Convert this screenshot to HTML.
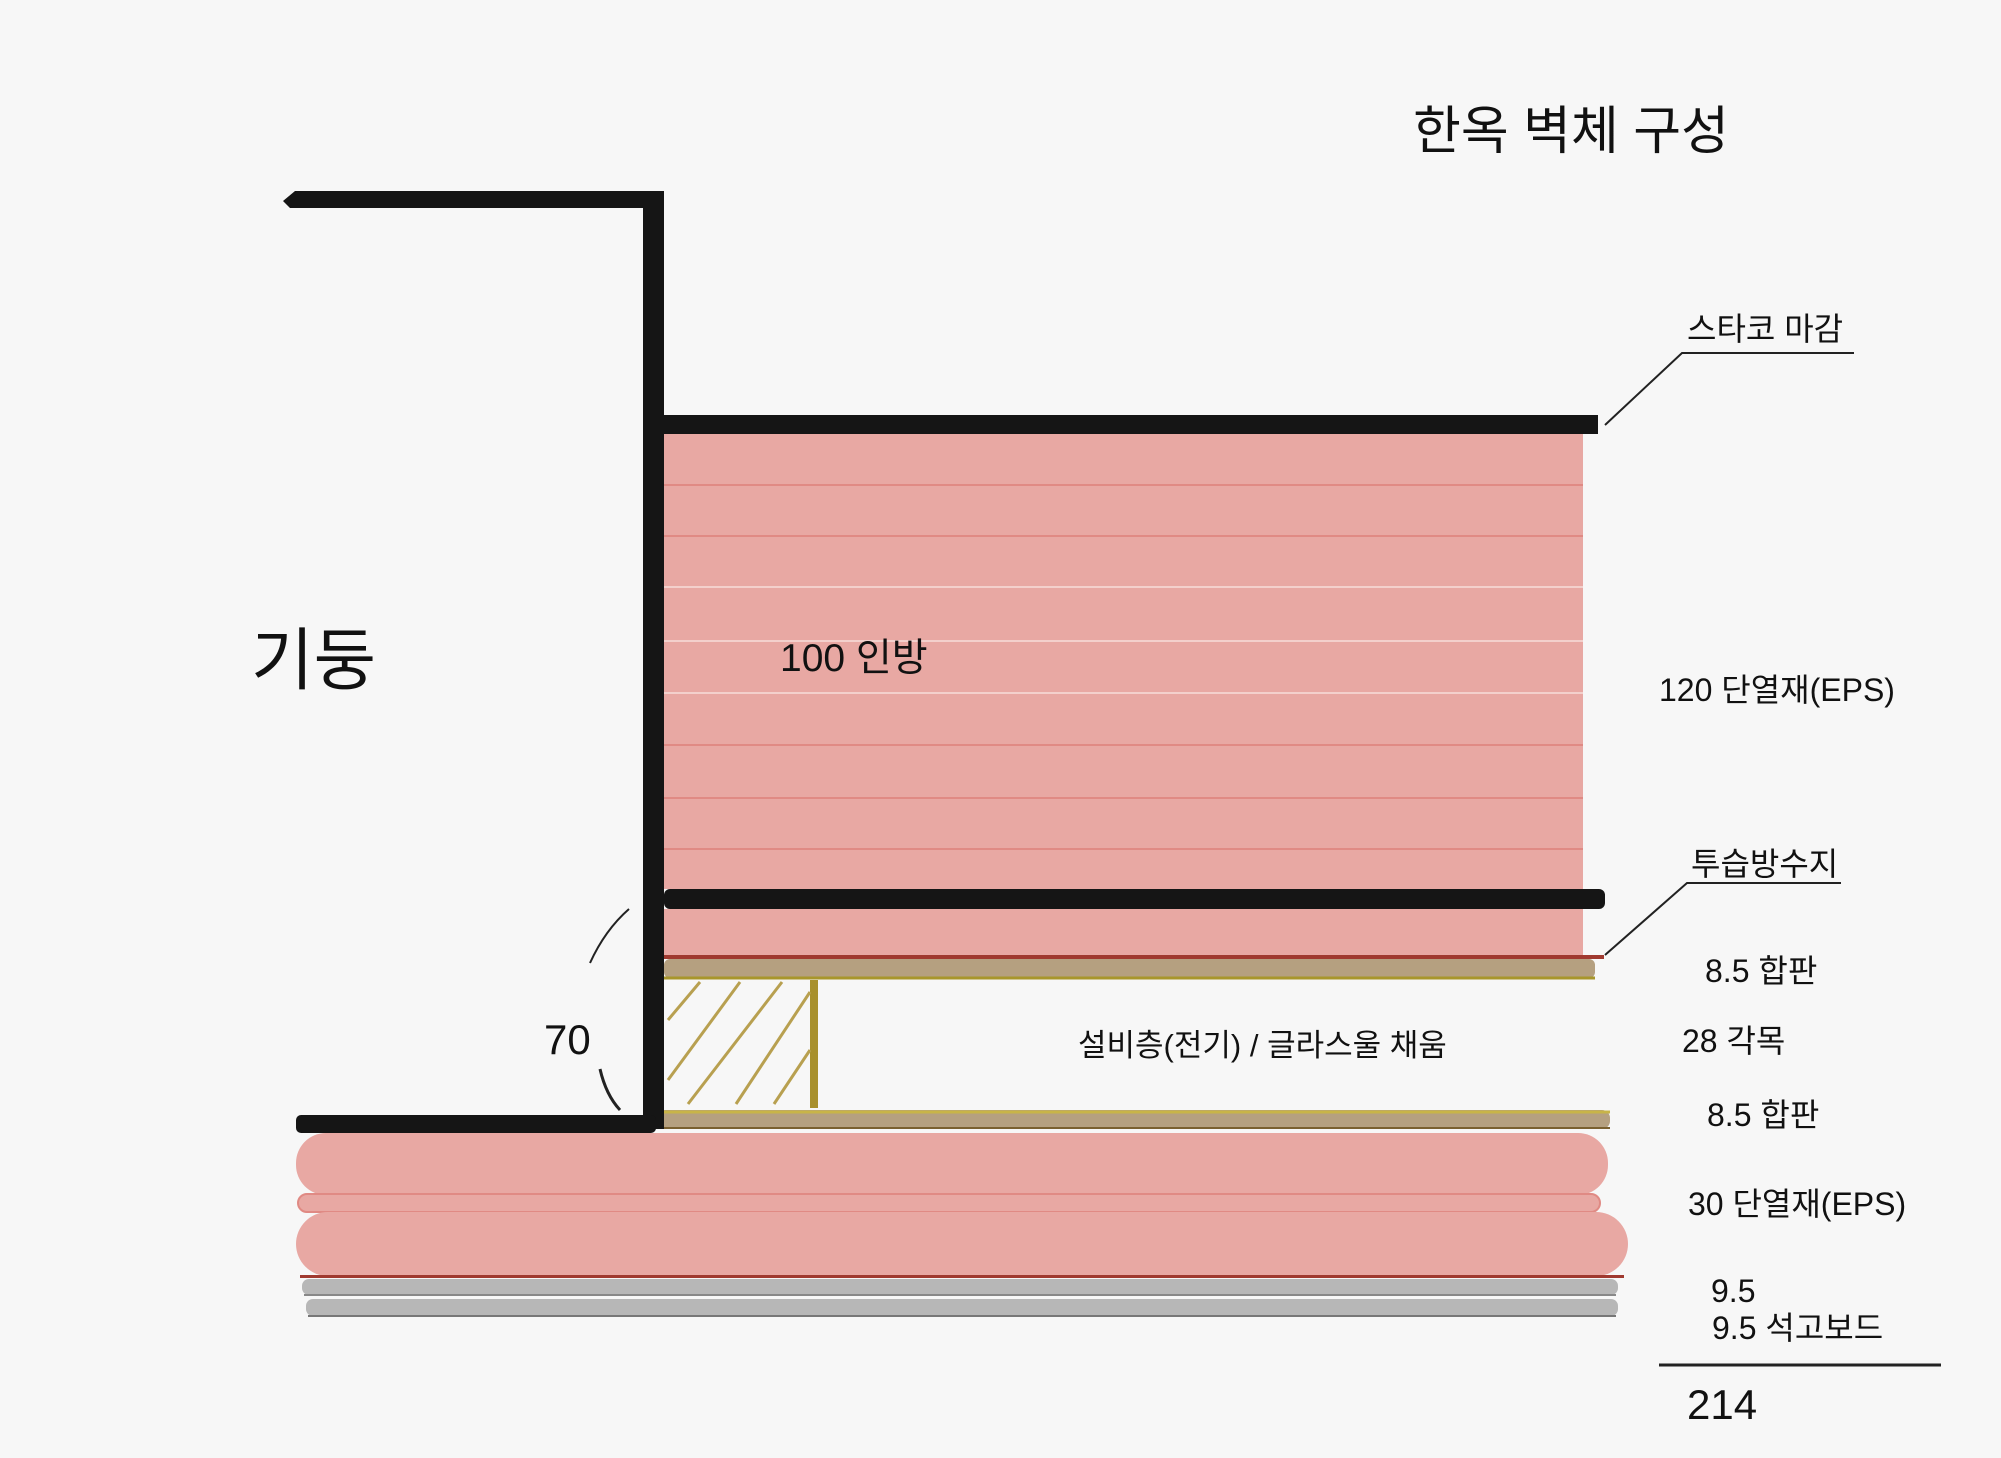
<!DOCTYPE html>
<html><head><meta charset="utf-8"><style>
html,body{margin:0;padding:0;background:#f7f7f7;}
svg{display:block}
text{font-family:"Liberation Sans","Noto Sans CJK KR",sans-serif;fill:#111}
</style></head><body>
<svg width="2001" height="1458" viewBox="0 0 2001 1458" xmlns="http://www.w3.org/2000/svg">
<rect width="2001" height="1458" fill="#f7f7f7"/>
<rect x="664" y="434" width="919" height="455" fill="#e8a8a3"/>
<g stroke="#e08a84" stroke-width="2">
<line x1="664" y1="485" x2="1583" y2="485"/><line x1="664" y1="536" x2="1583" y2="536"/>
<line x1="664" y1="587" x2="1583" y2="587" stroke="#f3d0cc"/><line x1="664" y1="641" x2="1583" y2="641" stroke="#f3d0cc"/>
<line x1="664" y1="693" x2="1583" y2="693" stroke="#f3d0cc"/><line x1="664" y1="745" x2="1583" y2="745"/>
<line x1="664" y1="798" x2="1583" y2="798"/><line x1="664" y1="849" x2="1583" y2="849"/>
</g>
<rect x="664" y="909" width="919" height="46" fill="#e8a8a3"/>
<rect x="664" y="955" width="940" height="4" fill="#a03a30"/>
<rect x="664" y="959" width="931" height="19" rx="6" fill="#b5a080"/>
<line x1="664" y1="978" x2="1595" y2="978" stroke="#a8962c" stroke-width="3"/>
<line x1="814" y1="980" x2="814" y2="1108" stroke="#a8902c" stroke-width="8"/>
<g stroke="#b8a050" stroke-width="3">
<line x1="668" y1="1020" x2="700" y2="982"/><line x1="668" y1="1080" x2="740" y2="982"/>
<line x1="688" y1="1104" x2="782" y2="982"/><line x1="736" y1="1104" x2="810" y2="992"/>
<line x1="774" y1="1104" x2="810" y2="1050"/>
</g>
<rect x="657" y="1110" width="953" height="19" rx="8" fill="#b5a080"/>
<line x1="657" y1="1112" x2="1610" y2="1112" stroke="#c8b448" stroke-width="3"/>
<line x1="657" y1="1128" x2="1610" y2="1128" stroke="#7a6030" stroke-width="2"/>
<rect x="296" y="1133" width="1312" height="62" rx="30" fill="#e8a8a3"/>
<rect x="298" y="1194" width="1302" height="18" rx="9" fill="#e8a8a3" stroke="#e08a84" stroke-width="2"/>
<rect x="296" y="1212" width="1332" height="64" rx="32" fill="#e8a8a3"/>
<rect x="300" y="1275" width="1324" height="3" fill="#a03a30"/>
<rect x="302" y="1279" width="1316" height="16" rx="7" fill="#b7b7b7"/>
<line x1="304" y1="1295" x2="1616" y2="1295" stroke="#888" stroke-width="2"/>
<rect x="306" y="1299" width="1312" height="17" rx="7" fill="#b7b7b7"/>
<line x1="308" y1="1316" x2="1616" y2="1316" stroke="#777" stroke-width="2"/>
<path d="M295,191 L664,191 L664,1129 L643,1129 L643,208 L290,208 L283,201 Z" fill="#151515"/>
<rect x="664" y="415" width="934" height="19" fill="#151515"/>
<rect x="664" y="889" width="941" height="20" rx="6" fill="#151515"/>
<rect x="296" y="1115" width="360" height="18" rx="5" fill="#151515"/>
<path d="M629,909 Q605,930 590,963" stroke="#222" stroke-width="2" fill="none"/>
<path d="M600,1069 Q606,1095 620,1110" stroke="#222" stroke-width="3" fill="none"/>
<polyline points="1854,353 1682,353 1605,425" stroke="#222" stroke-width="2" fill="none"/>
<polyline points="1841,883 1687,883 1605,955" stroke="#222" stroke-width="2" fill="none"/>
<line x1="1659" y1="1365" x2="1941" y2="1365" stroke="#222" stroke-width="3"/>
<text x="1413" y="149" font-size="52">한옥 벽체 구성</text>
<text x="1687" y="340" font-size="32">스타코 마감</text>
<text x="1691" y="875" font-size="32">투습방수지</text>
<text x="1659" y="701" font-size="32">120 단열재(EPS)</text>
<text x="780" y="671" font-size="39">100 인방</text>
<text x="251" y="684" font-size="68">기둥</text>
<text x="1705" y="982" font-size="32">8.5 합판</text>
<text x="1682" y="1052" font-size="32">28 각목</text>
<text x="1707" y="1126" font-size="32">8.5 합판</text>
<text x="1688" y="1215" font-size="32">30 단열재(EPS)</text>
<text x="1711" y="1302" font-size="32">9.5</text>
<text x="1712" y="1339" font-size="32">9.5 석고보드</text>
<text x="1687" y="1419" font-size="42">214</text>
<text x="544" y="1054" font-size="42">70</text>
<text x="1078" y="1056" font-size="31">설비층(전기) / 글라스울 채움</text>
</svg>
</body></html>
